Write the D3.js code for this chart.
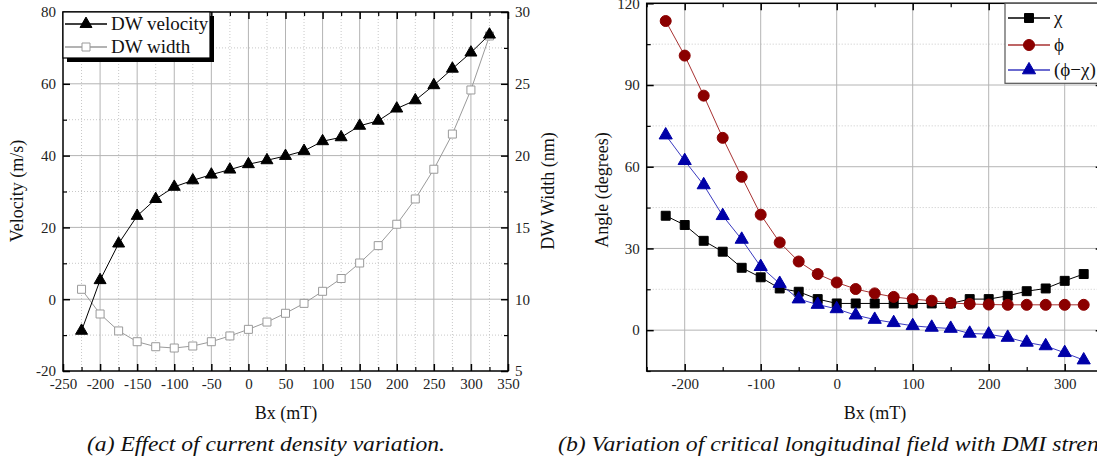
<!DOCTYPE html>
<html>
<head>
<meta charset="utf-8">
<script src="https://cdn.jsdelivr.net/npm/d3@7/dist/d3.min.js"></script>
<style>
body { margin: 0; background: #fff; }
</style>
</head>
<body>
<div id="chart"></div>
<script>
// field values (mT), shared by both panels
var bx = [-225, -200, -175, -150, -125, -100, -75, -50, -25, 0, 25, 50, 75, 100, 125, 150, 175, 200, 225, 250, 275, 300, 325];

// panel (a)
var dwVelocity = [-8.8, 5.3, 15.5, 23.2, 27.9, 31.3, 33.1, 34.7, 36.1, 37.6, 38.7, 39.9, 41.3, 44.0, 45.1, 48.3, 49.7, 53.1, 55.4, 59.6, 64.2, 68.7, 73.7];
var dwWidth = [10.69, 8.97, 7.79, 7.04, 6.69, 6.60, 6.74, 7.04, 7.44, 7.90, 8.41, 9.02, 9.71, 10.55, 11.44, 12.52, 13.73, 15.22, 16.98, 19.05, 21.50, 24.57, 28.33];

// panel (b)
var chi = [42.0, 38.6, 32.8, 28.8, 22.9, 19.4, 15.3, 14.1, 11.4, 9.8, 9.8, 9.8, 9.8, 9.8, 9.8, 9.8, 11.4, 11.4, 12.6, 14.3, 15.3, 18.1, 20.6];
var phi = [113.5, 100.8, 86.1, 70.6, 56.3, 42.4, 32.2, 25.2, 20.6, 17.5, 15.1, 13.5, 12.2, 11.4, 10.8, 10.0, 9.6, 9.4, 9.3, 9.3, 9.3, 9.3, 9.3];
var phiMinusChi = [71.6, 62.2, 53.3, 42.0, 33.3, 23.3, 17.1, 11.4, 9.4, 7.8, 5.5, 3.9, 2.7, 1.6, 1.0, 0.6, -1.2, -1.5, -2.7, -4.5, -5.8, -8.3, -11.0];

// ticks
var xTicksA = [-250, -200, -150, -100, -50, 0, 50, 100, 150, 200, 250, 300, 350];
var xMinorA = [-225, -175, -125, -75, -25, 25, 75, 125, 175, 225, 275, 325];
var velTicks = [-20, 0, 20, 40, 60, 80];
var velMinor = [-10, 10, 30, 50, 70];
var widthTicks = [5, 10, 15, 20, 25, 30];
var widthMinor = [7.5, 12.5, 17.5, 22.5, 27.5];
var xTicksB = [-200, -100, 0, 100, 200, 300];
var xMinorB = [-250, -150, -50, 50, 150, 250, 350];
var angleTicks = [0, 30, 60, 90, 120];
var angleMinor = [-15, 15, 45, 75, 105];

var FONT = "'Liberation Serif', 'Times New Roman', Times, serif";
var W = 1097, H = 464;
var svg = d3.select('#chart').append('svg')
	.attr('width', W)
	.attr('height', H)
	.attr('font-family', FONT);

var fmt = function(d) { return String(d); };

function drawGrid(g, x, y, vMajor, vMinor, hMajor, hMinor) {
	var x0 = x.range()[0], x1 = x.range()[1];
	var y0 = y.range()[0], y1 = y.range()[1];
	vMinor.forEach(function(v) {
		g.append('line').attr('x1', x(v)).attr('x2', x(v)).attr('y1', y0).attr('y2', y1)
			.attr('stroke', '#c8c8c8').attr('stroke-dasharray', '1,2');
	});
	hMinor.forEach(function(v) {
		g.append('line').attr('x1', x0).attr('x2', x1).attr('y1', y(v)).attr('y2', y(v))
			.attr('stroke', '#c8c8c8').attr('stroke-dasharray', '1,2');
	});
	vMajor.forEach(function(v) {
		g.append('line').attr('x1', x(v)).attr('x2', x(v)).attr('y1', y0).attr('y2', y1)
			.attr('stroke', '#b4b4b4');
	});
	hMajor.forEach(function(v) {
		g.append('line').attr('x1', x0).attr('x2', x1).attr('y1', y(v)).attr('y2', y(v))
			.attr('stroke', '#b4b4b4');
	});
}

// inward ticks, major + minor, labels optional
function drawAxis(g, axisFn, scale, major, minor, transform, labels) {
	var a = axisFn(scale).tickValues(major).tickSize(-7).tickPadding(7)
		.tickFormat(labels ? fmt : '');
	var ga = g.append('g').attr('transform', transform).call(a)
		.attr('font-family', FONT);
	ga.select('.domain').remove();
	ga.selectAll('line').attr('stroke', '#000').attr('stroke-width', 1.5);
	ga.selectAll('text').attr('font-size', 15).attr('fill', '#222');
	var m = axisFn(scale).tickValues(minor).tickSize(-4).tickFormat('');
	var gm = g.append('g').attr('transform', transform).call(m);
	gm.select('.domain').remove();
	gm.selectAll('line').attr('stroke', '#000').attr('stroke-width', 1.2);
	return ga;
}

function drawSeries(g, x, y, vals, opt) {
	var pts = bx.map(function(b, i) { return [b, vals[i]]; });
	var line = d3.line()
		.x(function(d) { return x(d[0]); })
		.y(function(d) { return y(d[1]); });
	g.append('path').datum(pts).attr('d', line)
		.attr('fill', 'none').attr('stroke', opt.line).attr('stroke-width', 1);
	var sym = d3.symbol().type(opt.type).size(opt.size);
	g.selectAll(null).data(pts).enter().append('path')
		.attr('d', sym)
		.attr('transform', function(d) { return 'translate(' + x(d[0]) + ',' + y(d[1]) + ')'; })
		.attr('fill', opt.fill).attr('stroke', opt.stroke).attr('stroke-width', opt.sw || 1);
}

function legendRow(g, x0, y0, opt, label) {
	g.append('line').attr('x1', x0).attr('x2', x0 + 42).attr('y1', y0).attr('y2', y0)
		.attr('stroke', opt.line).attr('stroke-width', 1.3);
	g.append('path').attr('d', d3.symbol().type(opt.type).size(opt.size)())
		.attr('transform', 'translate(' + (x0 + 21) + ',' + y0 + ')')
		.attr('fill', opt.fill).attr('stroke', opt.stroke).attr('stroke-width', opt.sw || 1);
	g.append('text').attr('x', x0 + 46).attr('y', y0 + 6)
		.attr('font-size', 19).attr('fill', '#111').text(label);
}

// ---------- panel (a) ----------
var xa = d3.scaleLinear().domain([-250, 350]).range([63, 508]);
var yv = d3.scaleLinear().domain([-20, 80]).range([371, 12]);
var yw = d3.scaleLinear().domain([5, 30]).range([371, 12]);

var ga = svg.append('g');
drawGrid(ga, xa, yv, xTicksA.slice(1, -1), xMinorA, velTicks.slice(1, -1), velMinor);

var velStyle = { line: '#000', type: d3.symbolTriangle, size: 62, fill: '#000', stroke: '#000' };
var widStyle = { line: '#9a9a9a', type: d3.symbolSquare, size: 64, fill: '#fff', stroke: '#9a9a9a' };
drawSeries(ga, xa, yw, dwWidth, widStyle);
drawSeries(ga, xa, yv, dwVelocity, velStyle);

drawAxis(ga, d3.axisBottom, xa, xTicksA, xMinorA, 'translate(0,371)', true);
drawAxis(ga, d3.axisTop, xa, xTicksA, xMinorA, 'translate(0,12)', false);
drawAxis(ga, d3.axisLeft, yv, velTicks, velMinor, 'translate(63,0)', true);
drawAxis(ga, d3.axisRight, yw, widthTicks, widthMinor, 'translate(508,0)', true);
ga.append('rect').attr('x', 63).attr('y', 12).attr('width', 445).attr('height', 359)
	.attr('fill', 'none').attr('stroke', '#000').attr('stroke-width', 1.5);

// legend (a) with drop shadow
var la = ga.append('g');
la.append('rect').attr('x', 67).attr('y', 16).attr('width', 147).attr('height', 46).attr('fill', '#000');
la.append('rect').attr('x', 63).attr('y', 12).attr('width', 147).attr('height', 46)
	.attr('fill', '#fff').attr('stroke', '#000').attr('stroke-width', 1.2);
legendRow(la, 65, 24, velStyle, 'DW velocity');
legendRow(la, 65, 47, widStyle, 'DW width');

ga.append('text').attr('x', 286).attr('y', 419).attr('text-anchor', 'middle')
	.attr('font-size', 18).attr('fill', '#111').text('Bx (mT)');
ga.append('text').attr('transform', 'translate(23,191) rotate(-90)').attr('text-anchor', 'middle')
	.attr('font-size', 18).attr('fill', '#111').text('Velocity (m/s)');
ga.append('text').attr('transform', 'translate(554,191) rotate(-90)').attr('text-anchor', 'middle')
	.attr('font-size', 18).attr('fill', '#111').text('DW Width (nm)');
ga.append('text').attr('x', 87).attr('y', 451)
	.attr('font-size', 22).attr('font-style', 'italic').attr('fill', '#111')
	.attr('textLength', 358).attr('lengthAdjust', 'spacingAndGlyphs')
	.text('(a) Effect of current density variation.');

// ---------- panel (b) ----------
var xb = d3.scaleLinear().domain([-250, 350]).range([646.7, 1102.7]);
var yb = d3.scaleLinear().domain([-15, 120]).range([371, 3.3]);

var gb = svg.append('g');
drawGrid(gb, xb, yb, xTicksB, [], angleTicks.slice(0, -1), angleMinor.slice(1));

var chiStyle = { line: '#000', type: d3.symbolSquare, size: 80, fill: '#000', stroke: '#000' };
var phiStyle = { line: '#a83232', type: d3.symbolCircle, size: 95, fill: '#8b0000', stroke: '#8b0000' };
var difStyle = { line: '#3a3ac0', type: d3.symbolTriangle, size: 75, fill: '#0000a8', stroke: '#0000a8' };
drawSeries(gb, xb, yb, chi, chiStyle);
drawSeries(gb, xb, yb, phi, phiStyle);
drawSeries(gb, xb, yb, phiMinusChi, difStyle);

drawAxis(gb, d3.axisBottom, xb, xTicksB, xMinorB, 'translate(0,371)', true);
drawAxis(gb, d3.axisTop, xb, xTicksB, xMinorB, 'translate(0,3.3)', false);
drawAxis(gb, d3.axisLeft, yb, angleTicks, angleMinor, 'translate(646.7,0)', true);
drawAxis(gb, d3.axisRight, yb, angleTicks, angleMinor, 'translate(1102.7,0)', false);
gb.append('rect').attr('x', 646.7).attr('y', 3.3).attr('width', 456).attr('height', 367.7)
	.attr('fill', 'none').attr('stroke', '#000').attr('stroke-width', 1.5);

var lb = gb.append('g');
lb.append('rect').attr('x', 1005).attr('y', 3.3).attr('width', 110).attr('height', 80)
	.attr('fill', '#fff').attr('stroke', '#555').attr('stroke-width', 1.2);
legendRow(lb, 1008, 18, chiStyle, 'χ');
legendRow(lb, 1008, 45, phiStyle, 'ϕ');
legendRow(lb, 1008, 70, difStyle, '(ϕ−χ)');

gb.append('text').attr('x', 875).attr('y', 419).attr('text-anchor', 'middle')
	.attr('font-size', 18).attr('fill', '#111').text('Bx (mT)');
gb.append('text').attr('transform', 'translate(608,190) rotate(-90)').attr('text-anchor', 'middle')
	.attr('font-size', 18).attr('fill', '#111').text('Angle (degrees)');
gb.append('text').attr('x', 558).attr('y', 451)
	.attr('font-size', 22).attr('font-style', 'italic').attr('fill', '#111')
	.attr('textLength', 577).attr('lengthAdjust', 'spacingAndGlyphs')
	.text('(b) Variation of critical longitudinal field with DMI strength.');
</script>
</body>
</html>
